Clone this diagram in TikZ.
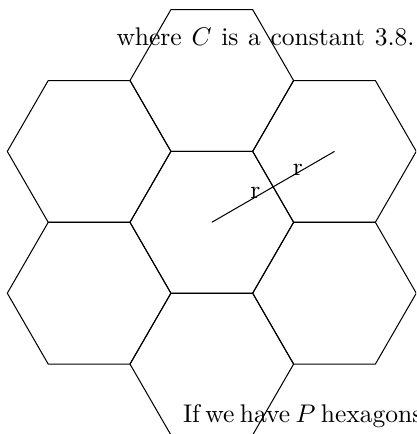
\documentclass[tikz,border=0pt]{standalone}
\begin{document}
\begin{tikzpicture}[x=0.3917pt,y=-0.3917pt,
  hexline/.style={draw=black,line width=0.4pt},
  lbl/.style={inner sep=0pt},
  txt/.style={anchor=base west,inner sep=0pt}]
\useasboundingbox (0,0) rectangle (416,434);
\clip (0,0) rectangle (416,434);
\def\ha{81.8}
\def\hh{70.84}
\foreach \n/\cx/\cy in {top/211.8/80.5, ul/89.1/151.4, ur/334.5/151.4, c/211.8/222.3, ll/89.1/293.2, lr/334.5/293.2, bot/211.8/364.1}{
  \coordinate (\n) at (\cx,\cy);
  \draw[hexline] ({\cx+\ha},\cy) -- ({\cx+0.5*\ha},{\cy+\hh}) -- ({\cx-0.5*\ha},{\cy+\hh}) -- ({\cx-\ha},\cy) -- ({\cx-0.5*\ha},{\cy-\hh}) -- ({\cx+0.5*\ha},{\cy-\hh}) -- cycle;
}
\coordinate (cc) at (211.8,222.3);
\coordinate (urc) at (334.5,151.4);
\draw[hexline] (cc) -- (urc);
\node[lbl] (r1) at (255.5,193) {r};
\node[lbl] (r2) at (298,170) {r};
\node[txt] (t1) at (116,45.5) {\spaceskip=3.8pt where $C$ is a constant 3.8.};
\node[txt] (t2) at (182.5,422.7) {\spaceskip=2.1pt If we have $P$ hexagons};
\end{tikzpicture}
\end{document}
